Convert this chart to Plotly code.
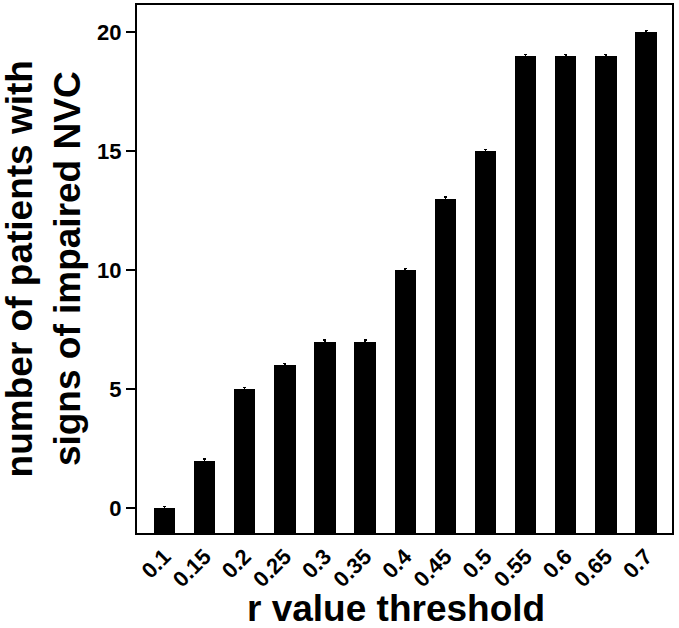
import plotly.graph_objects as go

# r value thresholds and patient counts
thresholds = ["0.1", "0.15", "0.2", "0.25", "0.3", "0.35", "0.4",
              "0.45", "0.5", "0.55", "0.6", "0.65", "0.7"]
patients = [0, 2, 5, 6, 7, 7, 10, 13, 15, 19, 19, 19, 20]
y_ticks = [0, 5, 10, 15, 20]

y_min, y_max = -1.04, 21.15
idx = list(range(len(thresholds)))

font_family = "Liberation Sans, Arial, sans-serif"

fig = go.Figure()
# bars are drawn from the bottom of the plot box, as in the original
fig.add_trace(go.Bar(
    x=idx,
    y=[v - y_min for v in patients],
    base=y_min,
    width=0.53,
    marker=dict(color="black", line=dict(width=0)),
    error_y=dict(type="constant", value=0.08, width=1.5, thickness=1.5, color="black", symmetric=False),
    hoverinfo="skip",
))

fig.update_xaxes(
    range=[-0.685, 12.648], automargin=False,
    tickvals=idx, ticktext=thresholds, tickangle=-45,
    tickfont=dict(family=font_family, size=22, color="black", weight="bold"),
    ticks="", showgrid=False, zeroline=False,
    showline=True, linecolor="black", linewidth=2, mirror=True,
)
fig.update_yaxes(
    range=[y_min, y_max], automargin=False,
    tickvals=y_ticks,
    tickfont=dict(family=font_family, size=22, color="black", weight="bold"),
    ticks="outside", ticklen=9, tickwidth=2, tickcolor="black",
    showgrid=False, zeroline=False,
    showline=True, linecolor="black", linewidth=2, mirror=True,
)

# axis titles placed as annotations so their position can be matched
title_font = dict(family=font_family, size=37, color="black", weight="bold")
fig.add_annotation(text="r value threshold", xref="paper", yref="paper",
                   x=0.485, y=-0.143, xanchor="center", yanchor="middle",
                   showarrow=False, borderpad=0, font=title_font)
fig.add_annotation(text="number of patients with<br>signs of impaired NVC",
                   xref="paper", yref="paper", x=-0.175, y=0.5,
                   xanchor="center", yanchor="middle", textangle=-90,
                   showarrow=False, borderpad=0, font=title_font)

fig.update_layout(
    width=679, height=628,
    margin=dict(l=137, r=7, t=5, b=95),
    plot_bgcolor="white", paper_bgcolor="white",
    showlegend=False, bargap=0,
)

# drop the page's default body margin so the figure sits at the window corner
fig.write_html("out.html", config={"displayModeBar": False},
               post_script="document.body.style.margin='0';")
